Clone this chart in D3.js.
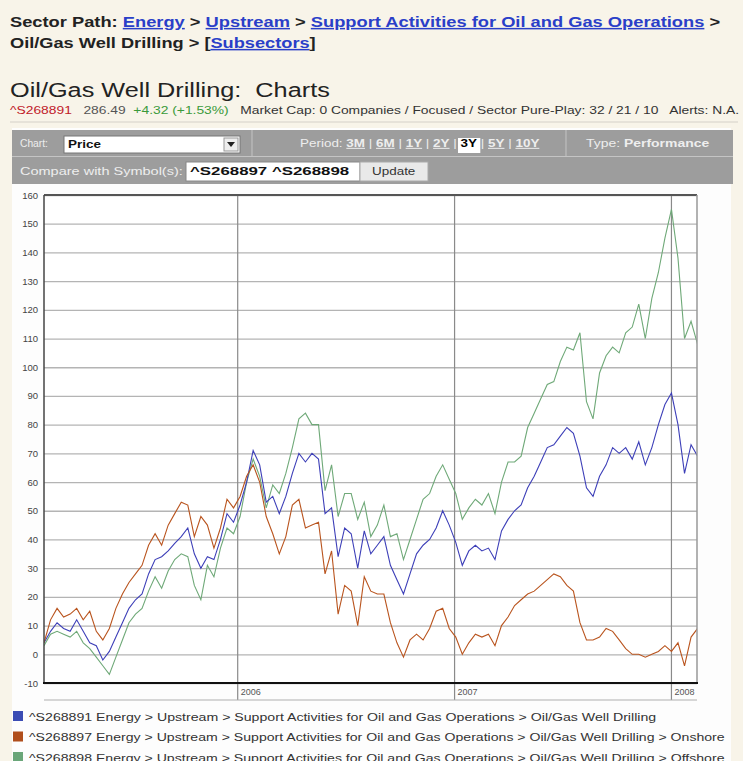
<!DOCTYPE html>
<html>
<meta charset="utf-8">
<script src="https://d3js.org/d3.v7.min.js"></script>
<style>
body{
	margin:0;
	background:#f8f4e9;
	font-family:"Liberation Sans", Arial, sans-serif;
}
.lnk{ fill:#2a3fc8; text-decoration:underline; }
</style>
<body>
	<svg id="page" width="743" height="761"></svg>
</body>
<script>
// one value every 11 days, starting 2005-02-09 (3Y performance, %)
const startDate = new Date(2005, 1, 9);
const endDate = new Date(2008, 1, 13);
const stepDays = 11;

const s268891 = [4,8,11,9,8,12,8,4,3,-2,1,6,11,16,19,21,28,33,34,36,
	38.6,41,44,35,30,34,33,40,49,46,52,60,71,66,53,55,49,55,63,70,
	67,70,68,49,51,34,44,42,30,43,35,38,41,31,26,21,28,35,38,40,
	44,50,45,39,31,36,38,36,37,33,43,47,50,52,58,62,67,72,73,76,
	79,77,69,58,55,62,66,72,70,72,68,74,66,72,80,87,91,80,63,73,69];
const s268897 = [4,12,16,13,14,16,12,15,8,5,9,16,21,25,28,31,38,42,38,45,
	49,53,52,41,48,45,37,44,54,51,55,62,66,60,48,42,35,41,52,54,
	44,45,46,28,36,14,24,22,10,27,22,21,21,11,4,-1,5,7,5,9,
	15,16,9,6,0,4,7,6,7,3,10,13,17,19,21,22,24,26,28,27,
	24,22,11,5,5,6,9,8,5,2,0,0,-1,0,1,3,1,4,-4,6,9];
const s268898 = [3,7,8,7,6,8,4,2,-1,-4,-7,-1,5,11,14,16,22,27,23,29,
	33,35,34,24,19,31,27,37,44,42,48,60,68,62,51,59,56,63,72,82,
	84,80,80,57,66,48,56,56,47,53,41,45,52,41,42,33,40,47,54,56,
	62,66,61,56,47,51,54,52,56,49,60,67,67,69,79,84,89,94,95,102,
	107,106,112,88,82,98,104,107,105,112,114,122,110,124,133,145,155,138,110,116,108];

const yTicks = [-10,0,10,20,30,40,50,60,70,80,90,100,110,120,130,140,150,160];
const yearTicks = ["2006","2007","2008"];
const periods = ["3M","6M","1Y","2Y","3Y","5Y","10Y"];
const legendLabels = [
	"^S268891 Energy > Upstream > Support Activities for Oil and Gas Operations > Oil/Gas Well Drilling",
	"^S268897 Energy > Upstream > Support Activities for Oil and Gas Operations > Oil/Gas Well Drilling > Onshore",
	"^S268898 Energy > Upstream > Support Activities for Oil and Gas Operations > Oil/Gas Well Drilling > Offshore"
];
const legendEnds = [657, 725, 725];
const lineColors = ["#3d3fb8", "#b9541e", "#6fa978"];
const boxColors = ["#3b4cb4", "#b04e1c", "#6aa679"];

const svg = d3.select("#page");

// stretch a text (or group) horizontally so it runs from x0 to x1
function fit(sel, x0, x1){
	const w = sel.node().getBBox().width;
	const k = (x1 - x0) / w;
	sel.attr("transform", "translate(" + x0 + ",0) scale(" + k + ",1) translate(" + (-x0) + ",0)");
}

// ---- header ----
const h1 = svg.append("text").attr("x", 10).attr("y", 27)
	.style("font-size", "15px").style("font-weight", "bold").attr("fill", "#222");
h1.append("tspan").text("Sector Path: ");
h1.append("tspan").attr("class", "lnk").text("Energy");
h1.append("tspan").text(" > ");
h1.append("tspan").attr("class", "lnk").text("Upstream");
h1.append("tspan").text(" > ");
h1.append("tspan").attr("class", "lnk").text("Support Activities for Oil and Gas Operations");
h1.append("tspan").text(" >");
fit(h1, 10, 721);

const h2 = svg.append("text").attr("x", 10).attr("y", 48)
	.style("font-size", "15px").style("font-weight", "bold").attr("fill", "#222");
h2.append("tspan").text("Oil/Gas Well Drilling > [");
h2.append("tspan").attr("class", "lnk").text("Subsectors");
h2.append("tspan").text("]");
fit(h2, 10, 316);

const ttl = svg.append("text").attr("x", 10).attr("y", 97)
	.style("font-size", "21px").attr("fill", "#222")
	.attr("xml:space", "preserve")
	.text("Oil/Gas Well Drilling:  Charts");
fit(ttl, 10, 330);

const sub = svg.append("text").attr("x", 10).attr("y", 114)
	.style("font-size", "10px").attr("xml:space", "preserve");
sub.append("tspan").attr("fill", "#c0202a").text("^S268891");
sub.append("tspan").attr("fill", "#555").text("   286.49  ");
sub.append("tspan").attr("fill", "#3a9a3a").text("+4.32 (+1.53%)");
sub.append("tspan").attr("fill", "#333").text("   Market Cap: 0 Companies / Focused / Sector Pure-Play: 32 / 21 / 10   Alerts: N.A.");
fit(sub, 10, 740);

svg.append("line").attr("x1", 10).attr("x2", 738).attr("y1", 122).attr("y2", 122)
	.attr("stroke", "#d4d0c8");

// white panel behind toolbar/chart/legend
svg.append("rect").attr("x", 12).attr("y", 128).attr("width", 719).attr("height", 640)
	.attr("fill", "#fdfdfd");

// ---- toolbar ----
const tb = svg.append("g").style("font-size", "10px");
tb.append("rect").attr("x", 12).attr("y", 130).attr("width", 721).attr("height", 54).attr("fill", "#9d9d9d");
tb.append("line").attr("x1", 12).attr("x2", 733).attr("y1", 156.5).attr("y2", 156.5).attr("stroke", "#c4c4c4");
tb.selectAll("line.sep").data([252, 566]).join("line").attr("class", "sep")
	.attr("x1", d => d).attr("x2", d => d).attr("y1", 130).attr("y2", 156)
	.attr("stroke", "#c4c4c4");

fit(tb.append("text").attr("x", 20).attr("y", 147).attr("fill", "#eee").text("Chart:"), 20, 48);
tb.append("rect").attr("x", 64).attr("y", 136).attr("width", 176).attr("height", 17)
	.attr("fill", "#fff").attr("stroke", "#777");
fit(tb.append("text").attr("x", 68).attr("y", 148).attr("fill", "#111")
	.style("font-weight", "bold").style("font-size", "11px").text("Price"), 68, 101);
tb.append("rect").attr("x", 224).attr("y", 138).attr("width", 14).attr("height", 13)
	.attr("fill", "#eee").attr("stroke", "#999");
tb.append("path").attr("d", "M227,142 L235,142 L231,147 Z").attr("fill", "#222");

const perG = tb.append("g");
const perBox = perG.append("rect").attr("fill", "#fff");
const per = perG.append("text").attr("x", 300).attr("y", 147).attr("fill", "#eee")
	.attr("xml:space", "preserve");
per.append("tspan").text("Period: ");
periods.forEach(function(p, i){
	if(i > 0) per.append("tspan").text(" | ");
	const t = per.append("tspan").attr("id", "p" + p).style("font-weight", "bold").text(p);
	if(p != "3Y") t.style("text-decoration", "underline");
	else t.attr("fill", "#000");
});
// highlight box behind selected period
const bb = document.getElementById("p3Y").getBBox();
perBox.attr("x", bb.x - 2).attr("y", 138).attr("width", bb.width + 4).attr("height", 15);
fit(perG, 300, 540);

const typ = tb.append("text").attr("x", 586).attr("y", 147).attr("fill", "#eee");
typ.append("tspan").text("Type: ");
typ.append("tspan").style("font-weight", "bold").text("Performance");
fit(typ, 586, 710);

fit(tb.append("text").attr("x", 20).attr("y", 175).attr("fill", "#eee").text("Compare with Symbol(s):"), 20, 183);
tb.append("rect").attr("x", 186).attr("y", 162).attr("width", 174).attr("height", 19)
	.attr("fill", "#fff").attr("stroke", "#888");
fit(tb.append("text").attr("x", 190).attr("y", 175).attr("fill", "#111")
	.style("font-weight", "bold").text("^S268897 ^S268898"), 190, 350);
tb.append("rect").attr("x", 360).attr("y", 162).attr("width", 68).attr("height", 19)
	.attr("fill", "#e9e9e9").attr("stroke", "#aaa");
fit(tb.append("text").attr("x", 372).attr("y", 175)
	.attr("fill", "#333").text("Update"), 372, 416);

// ---- chart ----
const x = d3.scaleTime().domain([startDate, endDate]).range([44, 697]);
const y = d3.scaleLinear().domain([-10, 160]).range([683, 195]);

const chart = svg.append("g");
chart.append("rect").attr("x", 44).attr("y", 195).attr("width", 653).attr("height", 488).attr("fill", "#fff");

// horizontal grid
chart.append("g")
	.attr("transform", "translate(44,0)")
	.call(d3.axisLeft(y).tickValues(yTicks).tickSize(-653).tickFormat(d => d))
	.call(g => g.select(".domain").remove())
	.call(g => g.selectAll(".tick line").attr("stroke", "#b4b4b4").attr("stroke-width", 1.3))
	.call(g => g.selectAll(".tick text").attr("x", -6).attr("fill", "#444")
		.style("font-size", "9.5px").style("font-family", "Liberation Sans, Arial, sans-serif"));

// year lines + labels
const years = yearTicks.map(d => new Date(+d, 0, 1));
chart.selectAll("line.yr").data(years).join("line").attr("class", "yr")
	.attr("x1", d => x(d)).attr("x2", d => x(d))
	.attr("y1", 195).attr("y2", 700)
	.attr("stroke", "#8a8a8a").attr("stroke-width", 1.2);
chart.selectAll("text.yr").data(yearTicks).join("text").attr("class", "yr")
	.attr("x", (d, i) => x(years[i]) + 3).attr("y", 695)
	.attr("fill", "#555").style("font-size", "9px").text(d => d);

chart.append("line").attr("x1", 44).attr("x2", 697).attr("y1", 700).attr("y2", 700)
	.attr("stroke", "#b0b0b0").attr("stroke-width", 1.2);

// series lines
chart.append("clipPath").attr("id", "clip")
	.append("rect").attr("x", 44).attr("y", 195).attr("width", 653).attr("height", 488);

const seriesList = [s268898, s268891, s268897];
const colorIdx = [2, 0, 1];
const line = d3.line()
	.x((d, i) => x(d3.timeDay.offset(startDate, i * stepDays)))
	.y(d => y(d));

chart.append("g").attr("clip-path", "url(#clip)")
	.selectAll("path")
	.data(seriesList)
	.join("path")
	.attr("fill", "none")
	.attr("stroke", (d, i) => lineColors[colorIdx[i]])
	.attr("stroke-width", 1.1)
	.attr("d", line);

// frame
chart.append("line").attr("x1", 44).attr("x2", 697).attr("y1", 195).attr("y2", 195).attr("stroke", "#555").attr("stroke-width", 2);
chart.append("line").attr("x1", 697).attr("x2", 697).attr("y1", 195).attr("y2", 683).attr("stroke", "#999").attr("stroke-width", 1.5);
chart.append("line").attr("x1", 44).attr("x2", 44).attr("y1", 195).attr("y2", 684).attr("stroke", "#444").attr("stroke-width", 1.5);
chart.append("line").attr("x1", 43).attr("x2", 698).attr("y1", 683).attr("y2", 683).attr("stroke", "#111").attr("stroke-width", 2);

// ---- legend ----
const lg = svg.append("g").selectAll("g").data(legendLabels).join("g")
	.attr("transform", (d, i) => "translate(13," + (711 + i * 20.5) + ")");
lg.append("rect").attr("width", 10).attr("height", 10).attr("fill", (d, i) => boxColors[i]);
lg.append("text").attr("x", 16).attr("y", 9.5).attr("fill", "#333")
	.style("font-size", "11.5px").text(d => d)
	.each(function(d, i){ fit(d3.select(this), 16, legendEnds[i] - 13); });
</script>
</html>
